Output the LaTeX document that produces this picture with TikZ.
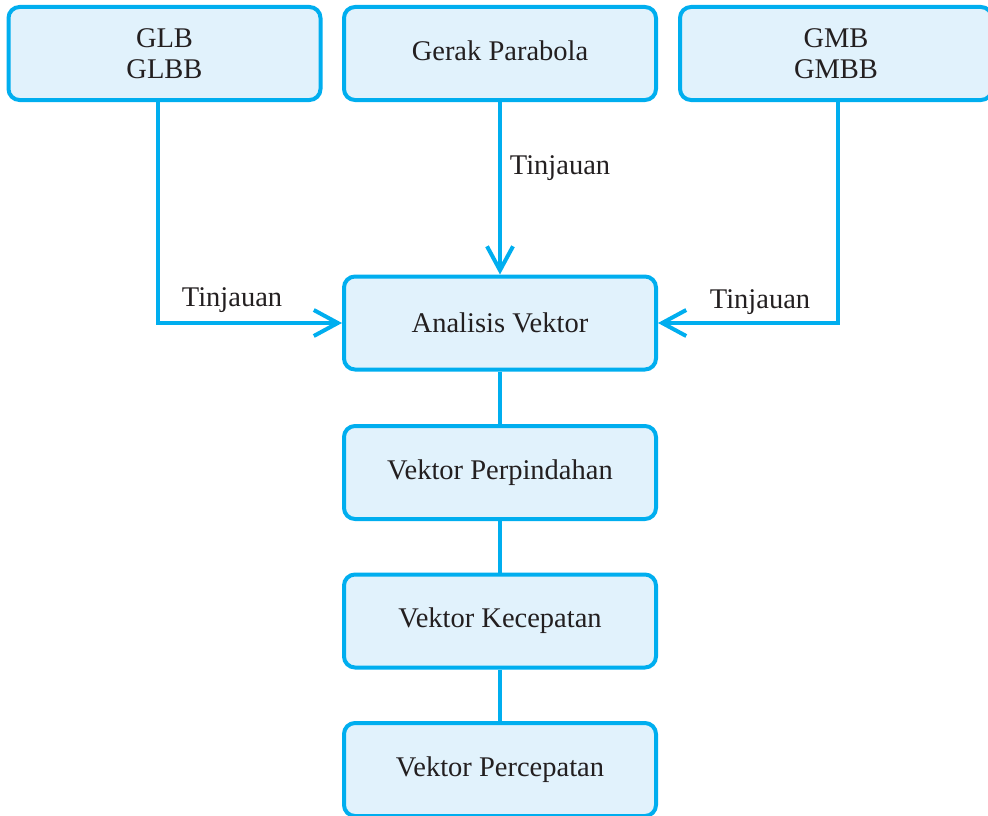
\documentclass[tikz,border=0pt]{standalone}
\usepackage{fontspec}
\setmainfont{Liberation Serif}
\usetikzlibrary{arrows.meta}
\definecolor{linec}{HTML}{00AEEF}
\definecolor{fillc}{HTML}{E1F2FC}
\definecolor{textc}{HTML}{231F20}
\tikzset{
  box/.style={draw=linec, fill=fillc, line width=4pt, rounded corners=11pt,
    minimum width=312pt, minimum height=93pt, inner sep=0pt, align=center,
    text=textc, font=\fontsize{28.5}{31}\selectfont},
  conn/.style={draw=linec, line width=4pt},
  arr/.style={conn, -{Straight Barb[length=24pt,width=26pt,line width=4pt]}},
  lbl/.style={text=textc, font=\fontsize{28.5}{31}\selectfont, inner sep=0pt}
}
\begin{document}
\begin{tikzpicture}[x=1pt,y=-1pt]
\useasboundingbox (0,0) rectangle (988,816);
\clip (0,0) rectangle (988,816);
\node[box] (glb) at (164.5,53.5) {GLB\\GLBB};
\node[box] (gp) at (500,53.5) {\raisebox{5pt}{Gerak Parabola}};
\node[box] (gmb) at (836,53.5) {GMB\\GMBB};
\node[box] (av) at (500,323) {Analisis Vektor};
\node[box] (vp) at (500,472.5) {\raisebox{3pt}{Vektor Perpindahan}};
\node[box] (vk) at (500,621) {Vektor Kecepatan};
\node[box] (va) at (500,769.5) {Vektor Percepatan};
\coordinate (glbd) at ([xshift=-6.5pt]glb.south);
\coordinate (gmbd) at ([xshift=2pt]gmb.south);
\draw[arr] (glbd) |- (av.west);
\draw[arr] (gmbd) |- (av.east);
\draw[arr] (gp.south) -- (av.north);
\draw[conn] (av.south) -- (vp.north);
\draw[conn] (vp.south) -- (vk.north);
\draw[conn] (vk.south) -- (va.north);
\node[lbl] (l1) at (232,300) {Tinjauan};
\node[lbl] (l2) at (760,302) {Tinjauan};
\node[lbl] (l3) at (560,168) {Tinjauan};
\end{tikzpicture}
\end{document}
